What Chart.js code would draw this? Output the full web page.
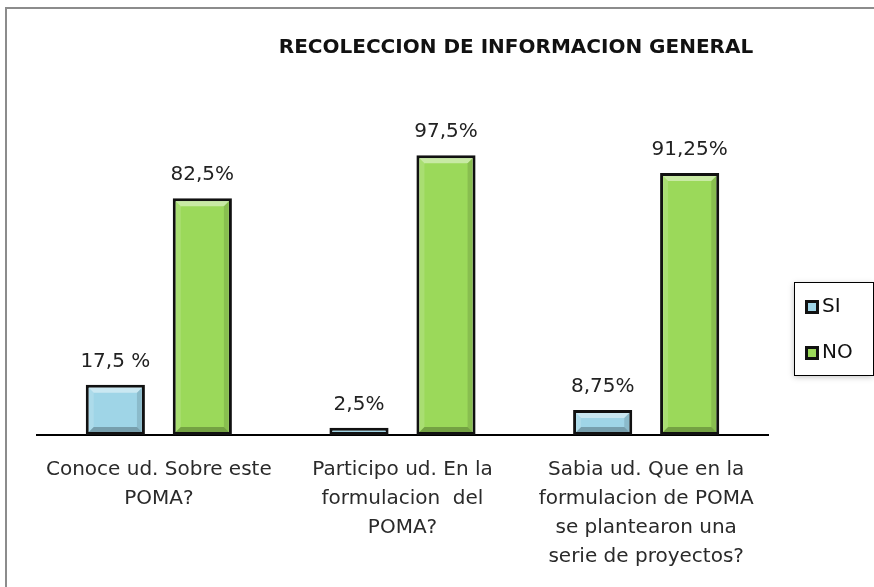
<!DOCTYPE html>
<html>

<head>
    <title>Recoleccion de informacion general</title>
    <script src="https://cdn.jsdelivr.net/npm/chart.js"></script>
    <style>
        body { margin: 0; background: #fff; overflow: hidden; }
        #frame { position: absolute; left: 5px; top: 7px; width: 900px; height: 620px; border: 2px solid #8c8c8c; }
        #myChart { position: absolute; left: 0; top: 0; }
    </style>
</head>

<body>
    <div id="frame"></div>
    <canvas id="myChart" width="874" height="587"></canvas>
    <script>
        const chartTitle = 'RECOLECCION DE INFORMACION GENERAL';
        const categories = [
            ['Conoce ud. Sobre este', 'POMA?'],
            ['Participo ud. En la', 'formulacion  del', 'POMA?'],
            ['Sabia ud. Que en la', 'formulacion de POMA', 'se plantearon una', 'serie de proyectos?']
        ];
        const seriesNames = ['SI', 'NO'];
        const siValues = [17.5, 2.5, 8.75];
        const noValues = [82.5, 97.5, 91.25];
        const siLabels = ['17,5 %', '2,5%', '8,75%'];
        const noLabels = ['82,5%', '97,5%', '91,25%'];

        const siColor = '#9fd5e7';
        const noColor = '#9bd95a';
        const textFont = '20px "DejaVu Sans"';

        // simple bevel on each bar, like the office 3d look
        const bevel = {
            id: 'bevel',
            afterDatasetsDraw(chart) {
                const ctx = chart.ctx;
                const b = 5;
                ctx.save();
                chart.data.datasets.forEach((ds, i) => {
                    chart.getDatasetMeta(i).data.forEach(bar => {
                        const left = bar.x - bar.width / 2 + 3;
                        const right = bar.x + bar.width / 2 - 3;
                        const top = bar.y + 3;
                        const bottom = bar.base - 3;
                        if (bottom - top < 2 * b + 2) return;
                        const strip = (pts, color) => {
                            ctx.beginPath();
                            ctx.moveTo(pts[0][0], pts[0][1]);
                            pts.slice(1).forEach(p => ctx.lineTo(p[0], p[1]));
                            ctx.closePath();
                            ctx.fillStyle = color;
                            ctx.fill();
                        };
                        strip([[left, top], [right, top], [right - b, top + b], [left + b, top + b]], 'rgba(255,255,255,0.45)');
                        strip([[left, top], [left + b, top + b], [left + b, bottom - b], [left, bottom]], 'rgba(255,255,255,0.15)');
                        strip([[right, top], [right, bottom], [right - b, bottom - b], [right - b, top + b]], 'rgba(0,0,0,0.12)');
                        strip([[left, bottom], [left + b, bottom - b], [right - b, bottom - b], [right, bottom]], 'rgba(0,0,0,0.25)');
                    });
                });
                ctx.restore();
            }
        };

        // value labels above bars
        const valueLabels = {
            id: 'valueLabels',
            afterDatasetsDraw(chart) {
                const ctx = chart.ctx;
                const texts = [siLabels, noLabels];
                ctx.save();
                ctx.font = textFont;
                ctx.fillStyle = '#222';
                ctx.textAlign = 'center';
                ctx.textBaseline = 'middle';
                chart.data.datasets.forEach((ds, i) => {
                    chart.getDatasetMeta(i).data.forEach((bar, j) => {
                        ctx.fillText(texts[i][j], bar.x, bar.y - 23);
                    });
                });
                ctx.restore();
            }
        };

        // title and boxed legend on the right
        const decorations = {
            id: 'decorations',
            afterDraw(chart) {
                const ctx = chart.ctx;
                ctx.save();
                ctx.font = 'bold 20px "DejaVu Sans"';
                ctx.fillStyle = '#111';
                ctx.textAlign = 'center';
                ctx.textBaseline = 'middle';
                ctx.fillText(chartTitle, 516, 48);

                // legend box
                ctx.shadowColor = 'rgba(0,0,0,0.25)';
                ctx.shadowBlur = 6;
                ctx.shadowOffsetY = 2;
                ctx.fillStyle = '#fff';
                ctx.fillRect(794, 282, 79, 93);
                ctx.shadowColor = 'transparent';
                ctx.strokeStyle = '#000';
                ctx.lineWidth = 1;
                ctx.strokeRect(794.5, 282.5, 79, 93);

                const colors = [siColor, noColor];
                ctx.font = textFont;
                ctx.textAlign = 'left';
                seriesNames.forEach((name, i) => {
                    const y = 307 + i * 46;
                    ctx.fillStyle = '#111';
                    ctx.fillRect(805, y - 7, 14, 14);
                    ctx.fillStyle = colors[i];
                    ctx.fillRect(808, y - 4, 8, 8);
                    ctx.fillStyle = '#111';
                    ctx.fillText(name, 822, y);
                });
                ctx.restore();
            }
        };

        const chartData = {
            labels: categories,
            datasets: [{
                label: seriesNames[0],
                data: siValues,
                backgroundColor: siColor,
                borderColor: '#111',
                borderWidth: 3,
                borderSkipped: false
            }, {
                label: seriesNames[1],
                data: noValues,
                backgroundColor: noColor,
                borderColor: '#111',
                borderWidth: 3,
                borderSkipped: false
            }]
        };

        const config = {
            type: 'bar',
            data: chartData,
            options: {
                responsive: false,
                animation: false,
                categoryPercentage: 0.714,
                barPercentage: 0.68,
                layout: { padding: { top: 148, left: 37, right: 106, bottom: 0 } },
                plugins: {
                    legend: { display: false },
                    title: { display: false },
                    tooltip: { enabled: false }
                },
                scales: {
                    x: {
                        grid: { display: false, drawTicks: false },
                        border: { display: true, color: '#000', width: 2 },
                        ticks: {
                            color: '#2a2a2a',
                            font: { family: 'DejaVu Sans', size: 20, lineHeight: 1.45 },
                            padding: 20,
                            maxRotation: 0,
                            autoSkip: false
                        },
                        afterFit(scale) { scale.height = 152; }
                    },
                    y: {
                        display: false,
                        min: 0,
                        max: 100
                    }
                }
            },
            plugins: [bevel, valueLabels, decorations]
        };

        var myChart = new Chart(document.getElementById('myChart'), config);
    </script>
</body>

</html>
